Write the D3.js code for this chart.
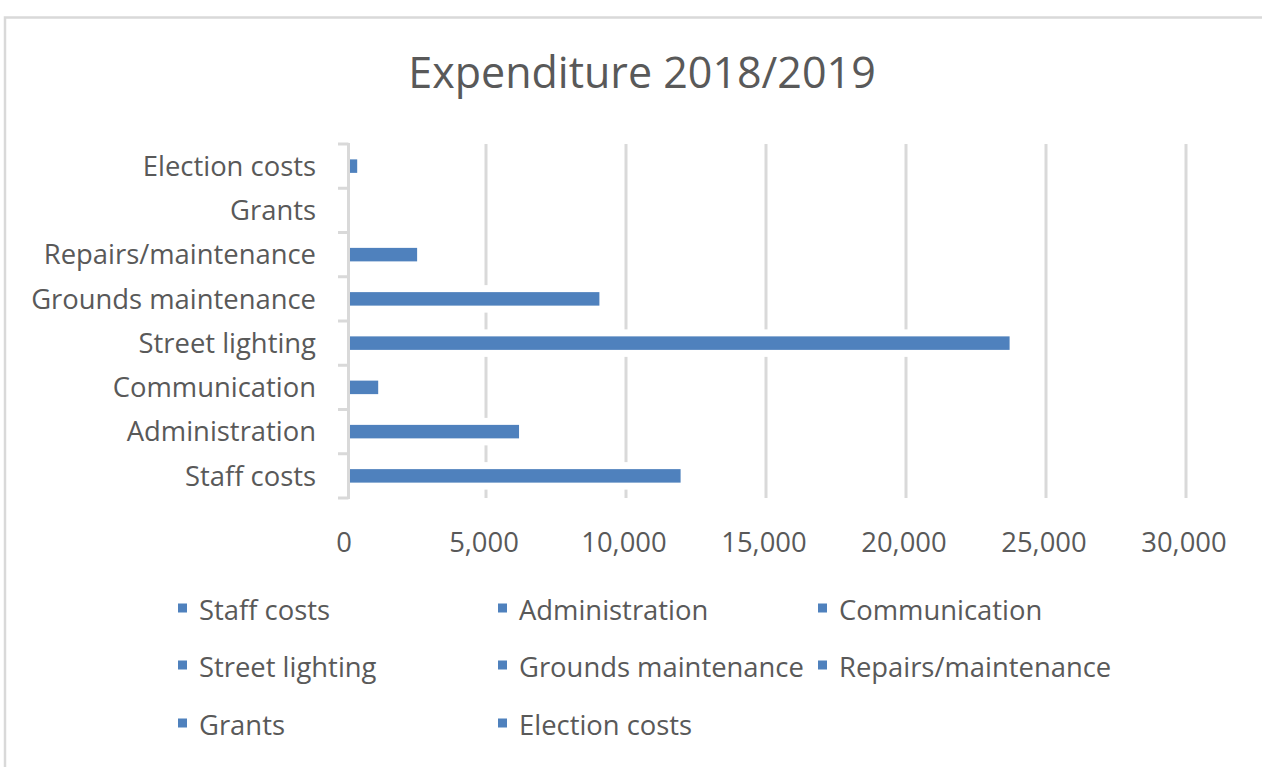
<!DOCTYPE html>
<html>
<head>
<meta charset="utf-8">
<script src="https://cdn.jsdelivr.net/npm/d3@7"></script>
<style>
  html, body { margin: 0; padding: 0; background: #fff; }
  svg { display: block; }
  text { font-family: "Open Sans", "Noto Sans", sans-serif; fill: #595959; }
</style>
</head>
<body>
<svg id="chart" width="1262" height="767"></svg>
<script>
// ---- data ----
const categories = ["Staff costs", "Administration", "Communication", "Street lighting",
                    "Grounds maintenance", "Repairs/maintenance", "Grants", "Election costs"];
const values = [11950, 6180, 1150, 23700, 9050, 2540, 0, 400];
const xTicks = [0, 5000, 10000, 15000, 20000, 25000, 30000];
const title = "Expenditure 2018/2019";

// ---- layout ----
const W = 1262, H = 767;
const plot = { left: 346, right: 1186, top: 144, bottom: 498 };
const barH = 13.5;
const color = "#4f81bd";
const grid = "#d9d9d9";
const fontSize = 27.4;

const svg = d3.select("#chart");

// chart border
svg.append("rect").attr("x", 5).attr("y", 17.5).attr("width", W + 20).attr("height", H + 20)
  .attr("fill", "#fff").attr("stroke", grid).attr("stroke-width", 2.5);

// title
svg.append("text").attr("x", 642).attr("y", 88).attr("text-anchor", "middle")
  .style("font-size", "43px").text(title);

const x = d3.scaleLinear().domain([0, 30000]).range([plot.left, plot.right]);
const y = d3.scaleBand().domain(categories).range([plot.bottom, plot.top]).padding(0);
const axisX = x(0) + 2.5;
const barStart = axisX + 1.5;

// gridlines
svg.append("g").selectAll("line").data(xTicks.slice(1)).join("line")
  .attr("x1", d => x(d)).attr("x2", d => x(d))
  .attr("y1", plot.top).attr("y2", plot.bottom)
  .attr("stroke", grid).attr("stroke-width", 3);

// white halo behind bars (gridlines are interrupted around the bars)
const data = categories.map((c, i) => ({ c, v: values[i] }));
svg.append("g").selectAll("rect").data(data.filter(d => d.v > 0)).join("rect")
  .attr("x", barStart).attr("width", d => x(d.v) - barStart)
  .attr("y", d => y(d.c) + (y.bandwidth() - barH) / 2 - 7)
  .attr("height", barH + 14).attr("fill", "#fff");

// bars
svg.append("g").selectAll("rect").data(data.filter(d => d.v > 0)).join("rect")
  .attr("x", barStart).attr("width", d => Math.max(0, x(d.v) - barStart))
  .attr("y", d => y(d.c) + (y.bandwidth() - barH) / 2)
  .attr("height", barH).attr("fill", color);

// y axis line and ticks
svg.append("line").attr("x1", axisX).attr("x2", axisX)
  .attr("y1", plot.top - 1).attr("y2", plot.bottom + 1)
  .attr("stroke", grid).attr("stroke-width", 3);
const boundaries = [plot.bottom].concat(categories.map(c => y(c)));
svg.append("g").selectAll("line").data(boundaries).join("line")
  .attr("x1", 338).attr("x2", axisX)
  .attr("y1", d => d).attr("y2", d => d)
  .attr("stroke", grid).attr("stroke-width", 3);

// y labels
svg.append("g").selectAll("text").data(categories).join("text")
  .attr("x", 316).attr("y", c => y(c) + y.bandwidth() / 2)
  .attr("dy", "0.36em").attr("text-anchor", "end")
  .style("font-size", fontSize + "px").text(c => c);

// x tick labels
const fmt = d3.format(",");
svg.append("g").selectAll("text").data(xTicks).join("text")
  .attr("x", d => x(d) - 2).attr("y", 552).attr("text-anchor", "middle")
  .style("font-size", fontSize + "px").text(d => fmt(d));

// legend
const legCols = [178, 498, 818];
const legRows = [620, 677, 735];
const leg = svg.append("g").selectAll("g").data(categories).join("g")
  .attr("transform", (c, i) => `translate(${legCols[i % 3]},${legRows[Math.floor(i / 3)]})`);
leg.append("rect").attr("x", 0).attr("y", -16.5).attr("width", 9).attr("height", 9).attr("fill", color);
leg.append("text").attr("x", 21).attr("y", 0).style("font-size", fontSize + "px").text(c => c);
</script>
</body>
</html>
